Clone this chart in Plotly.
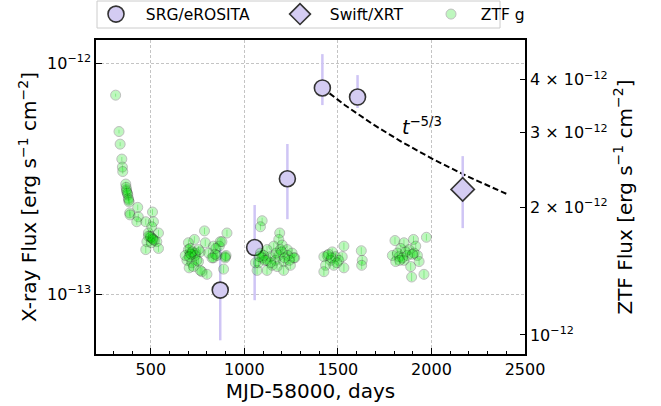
import plotly.graph_objects as go
import numpy as np

# ---------------- data ----------------
# SRG/eROSITA X-ray fluxes (erg s^-1 cm^-2)
erosita_mjd = [871, 1055, 1230, 1417, 1605]
erosita_flux = [1.04e-13, 1.59e-13, 3.16e-13, 7.82e-13, 7.14e-13]
erosita_err_hi = [0.54e-13, 0.84e-13, 1.31e-13, 3.14e-13, 1.75e-13]
erosita_err_lo = [0.41e-13, 0.65e-13, 1.05e-13, 1.23e-13, 0.74e-13]

# Swift/XRT
xrt_mjd = [2167]
xrt_flux = [2.84e-13]
xrt_err_hi = [1.12e-13]
xrt_err_lo = [0.91e-13]

# ZTF g-band fluxes in units of 1e-12 erg s^-1 cm^-2
ztf_mjd = [
    312, 330, 336, 345, 348, 350, 366, 368, 371, 377, 380, 384, 387, 389, 370, 375, 382,
    430, 433, 425, 509, 473, 514,
    505, 487, 541, 496, 509, 519, 479, 532, 541, 473, 502, 487, 500, 512,
    787, 907, 733, 701, 791, 835, 871, 866, 710, 737, 764, 809, 693, 720, 755, 835, 898,
    889, 705, 773, 800, 684, 737, 701, 848, 854, 902, 746, 728, 880, 710, 755, 844, 827,
    764, 715, 722, 705, 898,
    1095, 1086, 1189, 1184, 1202, 1157, 1121, 1086, 1229, 1255, 1095, 1139, 1184, 1232,
    1121, 1166, 1210, 1076, 1148, 1246, 1068, 1121, 1210, 1175, 1103, 1193, 1269, 1059,
    1264, 1200, 1170, 1140, 1110, 1215, 1080, 1240,
    1470, 1532, 1443, 1487, 1523, 1425, 1461, 1505, 1434, 1478, 1532, 1425, 1625, 1630,
    1627, 1465, 1450, 1495,
    1805, 1853, 1904, 1973, 1836, 1880, 1916, 1791, 1827, 1871, 1925, 1809, 1853, 1889,
    1934, 1894, 1960, 1818, 1862, 1907, 1845, 1830, 1898,
]
ztf_flux_e12 = [
    3.68, 3.02, 2.82, 2.60, 2.49, 2.43, 2.27, 2.23, 2.18, 2.14, 2.10, 2.06, 1.94, 1.92, 2.20, 2.16, 2.08,
    2.00, 1.90, 1.85, 1.95, 1.85, 1.85,
    1.80, 1.74, 1.74, 1.71, 1.69, 1.67, 1.66, 1.66, 1.60, 1.59, 1.65, 1.71, 1.70, 1.68,
    1.76, 1.74, 1.68, 1.65, 1.65, 1.62, 1.66, 1.62, 1.56, 1.56, 1.57, 1.56, 1.50, 1.48, 1.49, 1.52, 1.53,
    1.43, 1.44, 1.41, 1.39, 1.54, 1.54, 1.59, 1.60, 1.54, 1.54, 1.50, 1.45, 1.66, 1.60, 1.59, 1.55, 1.52,
    1.42, 1.55, 1.57, 1.53, 1.52,
    1.86, 1.80, 1.74, 1.68, 1.63, 1.62, 1.59, 1.56, 1.59, 1.56, 1.52, 1.53, 1.54, 1.54,
    1.50, 1.50, 1.49, 1.48, 1.46, 1.46, 1.42, 1.42, 1.42, 1.45, 1.54, 1.59, 1.52, 1.48,
    1.52, 1.57, 1.56, 1.48, 1.50, 1.52, 1.53, 1.50,
    1.57, 1.62, 1.54, 1.53, 1.53, 1.53, 1.50, 1.50, 1.46, 1.46, 1.44, 1.41, 1.58, 1.50,
    1.46, 1.52, 1.55, 1.48,
    1.67, 1.65, 1.68, 1.70, 1.60, 1.59, 1.62, 1.54, 1.53, 1.54, 1.54, 1.49, 1.50, 1.45,
    1.49, 1.37, 1.39, 1.56, 1.57, 1.56, 1.52, 1.50, 1.55,
]
ztf_err_e12 = 0.03

# power-law model t^(-5/3), normalised to the first bright eROSITA point
model_t0 = 305
model_index = -5.0 / 3.0
model_start = 1417
model_end = 2400
model_norm = 7.82e-13

# legend labels
label_erosita = "SRG/eROSITA"
label_xrt = "Swift/XRT"
label_ztf = "ZTF g"

# tick definitions
x_range = [207, 2500]
x_ticks = [500, 1000, 1500, 2000, 2500]
left_ticks = [1e-13, 1e-12]
left_ticktext = ["10<sup>−13</sup>", "10<sup>−12</sup>"]
left_minor = [7e-14, 8e-14, 9e-14, 2e-13, 3e-13, 4e-13, 5e-13, 6e-13, 7e-13, 8e-13, 9e-13]
right_ticks = [1e-12, 2e-12, 3e-12, 4e-12]
right_ticktext = ["10<sup>−12</sup>", "2 × 10<sup>−12</sup>", "3 × 10<sup>−12</sup>", "4 × 10<sup>−12</sup>"]
left_range_log = [-13.26, -11.899]
right_range_log = [-12.045, -11.304]

# ---------------- figure ----------------
FONT = "DejaVu Sans"
lav_fill = "#d4ccf2"
lav_err = "#cfc5f5"
NB = "\u00a0"
W, H = 661, 406
ML, MR, MT, MB = 96, 136, 40, 52
PW, PH = W - ML - MR, H - MT - MB

ztf_flux = [v * 1e-12 for v in ztf_flux_e12]
model_x = np.linspace(model_start, model_end, 100)
model_y = model_norm * ((model_x - model_t0) / (model_start - model_t0)) ** model_index

fig = go.Figure()

fig.add_trace(go.Scatter(
    x=ztf_mjd, y=ztf_flux, mode="markers", name=NB * 2 + label_ztf, yaxis="y2", legend="legend3",
    marker=dict(size=10, color="#00e000", opacity=0.25, line=dict(color="black", width=1)),
    error_y=dict(type="constant", value=ztf_err_e12 * 1e-12, color="rgba(0,200,0,0.3)", thickness=1, width=0),
))

fig.add_trace(go.Scatter(
    x=model_x, y=model_y, mode="lines", showlegend=False,
    line=dict(color="black", width=2, dash="6px,3px"),
))

fig.add_trace(go.Scatter(
    x=erosita_mjd, y=erosita_flux, mode="markers", name=NB * 2 + label_erosita, legend="legend",
    marker=dict(size=16, symbol="circle", color=lav_fill, line=dict(color="#333333", width=1.6)),
    error_y=dict(type="data", symmetric=False, array=erosita_err_hi, arrayminus=erosita_err_lo,
                 color=lav_err, thickness=2.5, width=0),
))

fig.add_trace(go.Scatter(
    x=xrt_mjd, y=xrt_flux, mode="markers", name=NB * 2 + label_xrt, legend="legend2",
    marker=dict(size=18, symbol="diamond", color=lav_fill, line=dict(color="#333333", width=1.6)),
    error_y=dict(type="data", symmetric=False, array=xrt_err_hi, arrayminus=xrt_err_lo,
                 color=lav_err, thickness=2.5, width=0),
))

fig.add_annotation(
    x=1830, y=np.log10(5.35e-13), xref="x", yref="y",
    text="<i>t</i><sup>−5/3</sup>", showarrow=False, xanchor="left", yanchor="middle",
    font=dict(family=FONT, size=19, color="black"),
)

# legend frame (pixel box 97..500 x 1..28)
fig.add_shape(
    type="rect", xref="paper", yref="paper", layer="below",
    x0=(97 - ML) / PW, x1=(500 - ML) / PW,
    y0=(H - MB - 28) / PH, y1=(H - MB - 1) / PH,
    line=dict(color="#cccccc", width=1), fillcolor="white",
)

axis_font = dict(family=FONT, size=16, color="black")
title_font = dict(family=FONT, size=20, color="black")
legend_font = dict(family=FONT, size=15.5, color="black")
grid_col = "#c4c4c4"


def legend_at(px):
    return dict(
        orientation="h", xref="container", yref="container",
        x=px / W, xanchor="left", y=1 - 14.5 / H, yanchor="middle",
        bgcolor="rgba(0,0,0,0)", borderwidth=0, font=legend_font,
    )


fig.update_layout(
    width=W, height=H,
    margin=dict(l=ML, r=MR, t=MT, b=MB, autoexpand=False),
    paper_bgcolor="white", plot_bgcolor="white",
    font=dict(family=FONT, color="black"),
    legend=legend_at(96),
    legend2=legend_at(280),
    legend3=legend_at(431),
    xaxis=dict(
        range=x_range, tickvals=x_ticks, ticks="inside", ticklen=6, tickwidth=1,
        tickcolor="black", showline=True, linecolor="black", linewidth=1.5, mirror=True,
        showgrid=True, gridcolor=grid_col, griddash="3px,2px", gridwidth=1,
        tickfont=axis_font, zeroline=False,
        minor=dict(dtick=100, tick0=0, ticks="inside", ticklen=3.5, tickcolor="black", showgrid=False),
        title=dict(text="MJD-58000, days", font=title_font, standoff=4),
    ),
    yaxis=dict(
        type="log", range=left_range_log, tickvals=left_ticks, ticktext=left_ticktext,
        ticks="inside", ticklen=6, tickcolor="black", showline=True, linecolor="black",
        linewidth=1.5, showgrid=True, gridcolor=grid_col, griddash="3px,2px", gridwidth=1,
        tickfont=axis_font, zeroline=False,
        title=dict(text="X-ray Flux [erg s<sup>−1</sup> cm<sup>−2</sup>]", font=title_font, standoff=5),
    ),
    yaxis3=dict(
        type="log", range=left_range_log, tickvals=left_minor, overlaying="y", side="left",
        ticks="inside", ticklen=3.5, tickcolor="black", showticklabels=False,
        showgrid=False, showline=False, zeroline=False, anchor="x",
    ),
    yaxis2=dict(
        type="log", range=right_range_log, tickvals=right_ticks, ticktext=right_ticktext,
        overlaying="y", side="right", anchor="x",
        ticks="inside", ticklen=5, tickcolor="black", showline=True, linecolor="black",
        linewidth=1.5, showgrid=False, zeroline=False, tickfont=axis_font,
        title=dict(text="ZTF Flux [erg s<sup>−1</sup> cm<sup>−2</sup>]", font=title_font, standoff=11),
    ),
)

fig.write_html("out.html")
